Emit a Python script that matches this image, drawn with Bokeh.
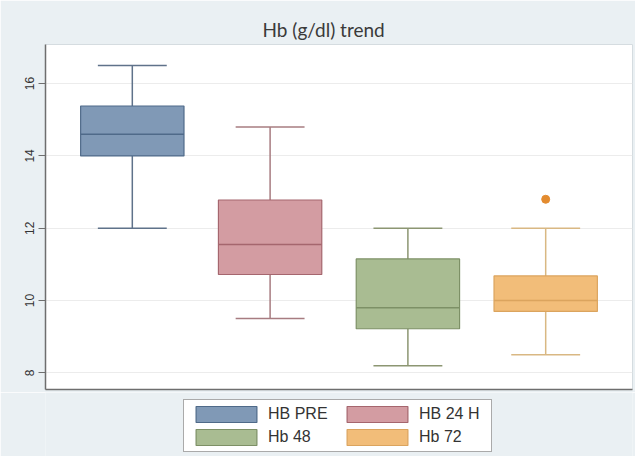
from bokeh.plotting import figure
from bokeh.layouts import column
from bokeh.models import Range1d, Legend, LegendItem, FixedTicker, ColumnDataSource
from bokeh.embed import file_html
from bokeh.resources import INLINE

# ---- data ----
groups = ["HB PRE", "HB 24 H", "Hb 48", "Hb 72"]
positions = [1, 2, 3, 4]
whisker_low = [12.0, 9.5, 8.2, 8.5]
q1 = [14.0, 10.72, 9.22, 9.7]
median = [14.6, 11.55, 9.8, 10.0]
q3 = [15.38, 12.78, 11.15, 10.68]
whisker_high = [16.5, 14.8, 12.0, 12.0]
outlier_pos = [4]
outlier_val = [12.8]
y_ticks = [8, 10, 12, 14, 16]

fill_colors = ["#8099b6", "#d39ca2", "#a9bc92", "#f2bd79"]
edge_colors = ["#4f6a89", "#a5666e", "#7d9066", "#dba45e"]
whisker_colors = ["#5f728a", "#a77c81", "#8c9672", "#d9b883"]
outlier_color = "#e38b2f"
bg = "#eaf0f3"

box_w = 0.75
cap_w = 0.5

src = ColumnDataSource(dict(
    x=positions,
    left=[p - box_w / 2 for p in positions],
    right=[p + box_w / 2 for p in positions],
    cap_l=[p - cap_w / 2 for p in positions],
    cap_r=[p + cap_w / 2 for p in positions],
    lo=whisker_low, q1=q1, med=median, q3=q3, hi=whisker_high,
    fill=fill_colors, edge=edge_colors, wc=whisker_colors, label=groups,
))

p = figure(width=635, height=392, output_backend="svg", toolbar_location=None,
           x_range=Range1d(0.37, 4.63), y_range=Range1d(7.54, 17.08),
           min_border_left=45, min_border_right=3, min_border_top=44, min_border_bottom=3,
           background_fill_color="white", border_fill_color=bg,
           outline_line_color="#d5dce0", title="Hb (g/dl) trend")

p.title.align = "left"
p.title.offset = 217
p.title.standoff = 7
p.title.text_font = "Lato"
p.title.text_font_size = "19px"
p.title.text_font_style = "normal"
p.title.text_color = "#3a3a3a"

# whiskers
p.segment(x0="x", y0="q3", x1="x", y1="hi", source=src, line_color="wc", line_width=1.5)
p.segment(x0="x", y0="lo", x1="x", y1="q1", source=src, line_color="wc", line_width=1.5)
p.segment(x0="cap_l", y0="hi", x1="cap_r", y1="hi", source=src, line_color="wc", line_width=1.5)
p.segment(x0="cap_l", y0="lo", x1="cap_r", y1="lo", source=src, line_color="wc", line_width=1.5)
# boxes
p.quad(left="left", right="right", bottom="q1", top="q3", source=src,
       fill_color="fill", line_color="edge", line_width=1.2)
p.segment(x0="left", y0="med", x1="right", y1="med", source=src, line_color="edge", line_width=1.5)
# outlier
p.scatter(outlier_pos, outlier_val, size=8, color=outlier_color)

# axes
p.yaxis.ticker = FixedTicker(ticks=y_ticks)
p.yaxis.major_label_orientation = "vertical"
p.yaxis.major_label_text_font = "Liberation Sans"
p.yaxis.major_label_text_font_size = "12px"
p.yaxis.major_label_text_color = "#333333"
p.yaxis.axis_line_color = "#6e6e6e"
p.yaxis.axis_line_width = 1.5
p.yaxis.major_tick_line_color = "#6e6e6e"
p.yaxis.major_tick_out = 7
p.yaxis.major_tick_in = 0
p.yaxis.minor_tick_line_color = None
p.yaxis.major_label_standoff = 4

p.xaxis.ticker = FixedTicker(ticks=[])
p.xaxis.major_tick_line_color = None
p.xaxis.minor_tick_line_color = None
p.xaxis.major_tick_out = 0
p.xaxis.major_label_standoff = 0
p.xaxis.major_label_text_font_size = "0px"
p.xaxis.axis_line_color = "#6e6e6e"
p.xaxis.axis_line_width = 1.5

p.xgrid.grid_line_color = None
p.ygrid.ticker = FixedTicker(ticks=y_ticks)
p.ygrid.grid_line_color = "#ececec"

# legend strip (separate figure so the legend is not clipped)
p2 = figure(width=635, height=64, output_backend="svg", toolbar_location=None,
            x_range=Range1d(0, 1), y_range=Range1d(0, 1),
            x_axis_type=None, y_axis_type=None, min_border=0,
            background_fill_color=bg, border_fill_color=bg, outline_line_color=None)
p2.grid.visible = False
leg_boxes = p2.quad(left="left", right="right", bottom="q1", top="q3", source=src,
                    fill_color="fill", line_color="edge", line_width=1.2)

items = [LegendItem(label=groups[i], renderers=[leg_boxes], index=i) for i in range(len(groups))]
legend = Legend(items=items, location=(138, 4), orientation="horizontal", ncols=2,
                glyph_width=76, glyph_height=20, label_width=68, label_height=16,
                label_standoff=4, spacing=3, padding=4, margin=0,
                label_text_font="Liberation Sans", label_text_font_size="16px",
                label_text_color="#333333",
                border_line_color="#555555", border_line_width=1,
                background_fill_color="white", background_fill_alpha=1.0)
p2.add_layout(legend, "center")

layout = column(p, p2, spacing=0)
open("out.html", "w").write(file_html(layout, INLINE))
